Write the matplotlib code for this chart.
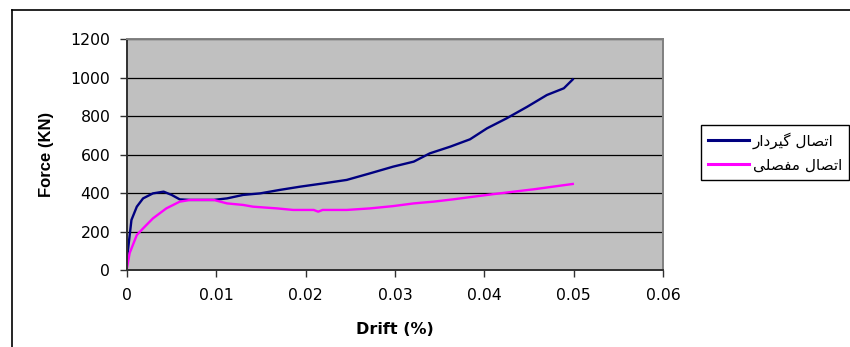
import matplotlib
matplotlib.use("Agg")
import matplotlib.pyplot as plt
from matplotlib.lines import Line2D

plt.rcParams['font.family'] = ['DejaVu Sans']

# منحنی اتصال گیردار
drift_rigid = [0.0, 0.0005, 0.0011, 0.0018, 0.0029, 0.0041, 0.0050, 0.0059, 0.0071,
               0.0097, 0.0112, 0.0130, 0.0149, 0.0171, 0.0194, 0.0220, 0.0246, 0.0272,
               0.0298, 0.0321, 0.0339, 0.0362, 0.0384, 0.0403, 0.0425, 0.0448, 0.0470,
               0.0489, 0.0499]
force_rigid = [60, 260, 329, 372, 398, 407, 390, 367, 364,
               364, 372, 390, 398, 416, 433, 450, 468, 502,
               537, 563, 606, 641, 679, 736, 788, 848, 909,
               944, 990]

# منحنی اتصال مفصلی
drift_pin = [0.0, 0.0003, 0.0011, 0.0018, 0.0029, 0.0044, 0.0059, 0.0071, 0.0097,
             0.0112, 0.0130, 0.0141, 0.0168, 0.0186, 0.0209, 0.0214, 0.0219, 0.0246,
             0.0272, 0.0298, 0.0321, 0.0343, 0.0365, 0.0388, 0.0410, 0.0433, 0.0455,
             0.0477, 0.0499]
force_pin = [10, 88, 182, 216, 268, 320, 355, 364, 364,
             346, 338, 329, 320, 312, 312, 303, 312, 312,
             320, 332, 346, 355, 367, 381, 394, 407, 419,
             433, 447]

labels = ['اتصال گیردار', 'اتصال مفصلی']

# matplotlib حروف فارسی را به هم نمی‌چسباند، پس شکل حروف را دستی انتخاب می‌کنیم
forms = {  # iso, fin, init, med
    'ا': ('\uFE8D', '\uFE8E', None, None),
    'د': ('\uFEA9', '\uFEAA', None, None),
    'ر': ('\uFEAD', '\uFEAE', None, None),
    'ت': ('\uFE95', '\uFE96', '\uFE97', '\uFE98'),
    'ص': ('\uFEB9', '\uFEBA', '\uFEBB', '\uFEBC'),
    'ل': ('\uFEDD', '\uFEDE', '\uFEDF', '\uFEE0'),
    'گ': ('\uFB92', '\uFB93', '\uFB94', '\uFB95'),
    'ی': ('\uFBFC', '\uFBFD', '\uFBFE', '\uFBFF'),
    'م': ('\uFEE1', '\uFEE2', '\uFEE3', '\uFEE4'),
    'ف': ('\uFED1', '\uFED2', '\uFED3', '\uFED4'),
}


def shape(text):
    out = []
    for i, ch in enumerate(text):
        if ch not in forms:
            out.append(ch)
            continue
        prev = text[i - 1] if i > 0 else ''
        nxt = text[i + 1] if i + 1 < len(text) else ''
        join_prev = prev in forms and forms[prev][2] is not None
        join_next = nxt in forms and forms[ch][2] is not None
        if join_prev and join_next:
            out.append(forms[ch][3])
        elif join_prev:
            out.append(forms[ch][1])
        elif join_next:
            out.append(forms[ch][2])
        else:
            out.append(forms[ch][0])
    return ''.join(reversed(out))


fig = plt.figure(figsize=(8.5, 3.47), dpi=100)
ax = fig.add_axes([0.1494, 0.2219, 0.6306, 0.6657])
ax.set_facecolor('#C0C0C0')

ax.plot(drift_rigid, force_rigid, color='#000080', lw=1.7, label=shape(labels[0]))
ax.plot(drift_pin, force_pin, color='#FF00FF', lw=1.7, label=shape(labels[1]))

ax.set_xlim(0, 0.06)
ax.set_ylim(0, 1200)
ax.set_xticks([0, 0.01, 0.02, 0.03, 0.04, 0.05, 0.06])
ax.set_xticklabels(['0', '0.01', '0.02', '0.03', '0.04', '0.05', '0.06'])
ax.set_yticks(range(0, 1201, 200))
ax.grid(axis='y', color='black', lw=0.9)
ax.set_axisbelow(True)
ax.tick_params(length=5, width=1, labelsize=11.3, color='#303030')
ax.tick_params(axis='y', pad=7)
ax.tick_params(axis='x', pad=8)
for side in ['left', 'bottom']:
    ax.spines[side].set_color('#303030')
    ax.spines[side].set_linewidth(1.4)
for side in ['top', 'right']:
    ax.spines[side].set_color('#808080')
    ax.spines[side].set_linewidth(1.4)

ax.set_xlabel('Drift (%)', fontsize=11.5, fontweight='bold', labelpad=13.5)
ax.set_ylabel('Force (KN)', fontsize=12, fontweight='bold', labelpad=12,
              family=['Liberation Sans', 'DejaVu Sans'])

leg = fig.legend(loc='upper left', bbox_to_anchor=(701 / 850, 1 - 125 / 347),
                 fancybox=False, edgecolor='black', framealpha=1,
                 handlelength=2.7, handletextpad=0.25, borderpad=0.45,
                 labelspacing=0.6, borderaxespad=0,
                 prop={'family': ['DejaVu Sans'], 'size': 11})
leg.get_frame().set_linewidth(1.0)
for h in leg.legend_handles:
    h.set_linewidth(2.2)

# قاب بیرونی نمودار
fig.add_artist(Line2D([12 / 850, 12 / 850], [0, 1 - 10 / 347], color='black', lw=1.2))
fig.add_artist(Line2D([12 / 850, 1], [1 - 10 / 347, 1 - 10 / 347], color='black', lw=1.2))

fig.savefig('out.png', dpi=100)
